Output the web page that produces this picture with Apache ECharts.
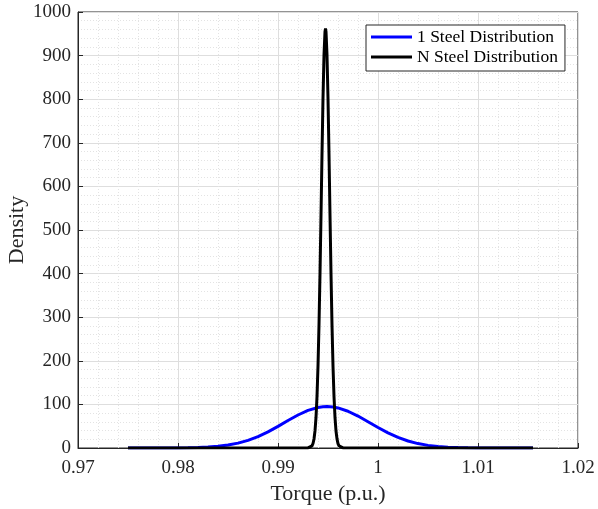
<!DOCTYPE html>
<html>
<head>
<meta charset="utf-8">
<script src="https://cdn.jsdelivr.net/npm/echarts@6/dist/echarts.min.js"></script>
<style>html,body{margin:0;padding:0;background:#fff;}#c{width:598px;height:509px;}</style>
</head>
<body>
<div id="c"></div>
<script>
// Values
const seriesNames = ['1 Steel Distribution', 'N Steel Distribution'];
const xTickLabels = ['0.97', '0.98', '0.99', '1', '1.01', '1.02'];
const yTickLabels = ['0','100','200','300','400','500','600','700','800','900','1000'];

const oneSteelX = [0.975,0.978,0.980,0.981,0.982,0.983,0.984,0.985,0.986,0.987,0.988,0.989,0.990,0.991,0.992,0.993,0.994,0.9945,0.9949,0.9955,0.996,0.997,0.998,0.999,1.000,1.001,1.002,1.003,1.004,1.005,1.006,1.007,1.008,1.009,1.010,1.012,1.0155];
const oneSteelY = [0,0.04,0.24,0.5,1.05,2.1,3.8,6.7,11.2,17.6,26.2,37.1,49.6,63,75.7,86.2,92.9,94.4,95,94.2,91.9,84.3,73.3,60.3,47,34.7,24.3,16.1,10.1,6.0,3.4,1.8,0.9,0.44,0.2,0.04,0];

const nSteelX = [0.975,0.9925,0.9930,0.9932,0.9934,0.9935,0.9936,0.9937,0.9938,0.9939,0.9940,0.9941,0.9942,0.9943,0.9944,0.9945,0.9946,0.9947,0.99475,0.9948,0.9949,0.9950,0.9951,0.9952,0.9953,0.9954,0.9955,0.9956,0.9957,0.9958,0.9959,0.9960,0.9961,0.9963,0.9965,0.9970,1.0155];
const nSteelY = [0,0,0.13,0.9,4.8,10.3,20.7,39.2,70,118,188,282,400,534,674,802,901,955,962,955,901,802,674,534,400,282,188,118,70,39,21,10,4.8,0.9,0.1,0,0];

const zip = (xs, ys) => xs.map((x, i) => [x, ys[i]]);
const serif = "'Liberation Serif', 'Times New Roman', serif";
const dark = '#262626';

const chart = echarts.init(document.getElementById('c'), null, {renderer: 'canvas'});
chart.setOption({
  backgroundColor: '#ffffff',
  animation: false,
  textStyle: {fontFamily: serif},
  grid: {left: 78, right: 20, top: 12, bottom: 61, show: true, borderColor: dark, borderWidth: 1,
    containLabel: false, outerBoundsMode: 'none'},
  legend: {
    orient: 'vertical',
    left: 366, top: 25,
    icon: 'rect',
    itemWidth: 41, itemHeight: 3,
    itemGap: 2,
    padding: [3, 7, 5, 5],
    backgroundColor: '#ffffff',
    borderColor: dark, borderWidth: 1,
    textStyle: {fontFamily: serif, fontSize: 17.5, color: '#000'},
    data: seriesNames
  },
  xAxis: {
    type: 'value', min: 0.97, max: 1.02, interval: 0.01,
    name: 'Torque (p.u.)', nameLocation: 'middle', nameGap: 35, nameMoveOverlap: false,
    nameTextStyle: {fontFamily: serif, fontSize: 22, color: dark},
    axisLine: {show: true, lineStyle: {color: dark, width: 1}},
    axisTick: {show: true, inside: true, length: 5, lineStyle: {color: dark}},
    axisLabel: {fontFamily: serif, fontSize: 19, color: dark, margin: 11,
      formatter: v => { const i = Math.round((v - 0.97) / 0.01); return xTickLabels[i] !== undefined ? xTickLabels[i] : ''; }},
    splitLine: {show: true, lineStyle: {color: '#dedede', width: 1}},
    minorTick: {show: true, splitNumber: 5, length: 0},
    minorSplitLine: {show: true, lineStyle: {color: '#e3e3e3', width: 1, type: [1, 2]}}
  },
  yAxis: {
    type: 'value', min: 0, max: 1000, interval: 100,
    name: 'Density', nameLocation: 'middle', nameGap: 50, nameMoveOverlap: false,
    nameTextStyle: {fontFamily: serif, fontSize: 22, color: dark},
    axisLine: {show: true, lineStyle: {color: dark, width: 1}},
    axisTick: {show: true, inside: true, length: 5, lineStyle: {color: dark}},
    axisLabel: {fontFamily: serif, fontSize: 19, color: dark, margin: 7,
      formatter: v => { const i = Math.round(v / 100); return yTickLabels[i] !== undefined ? yTickLabels[i] : ''; }},
    splitLine: {show: true, lineStyle: {color: '#dedede', width: 1}},
    minorTick: {show: true, splitNumber: 5, length: 0},
    minorSplitLine: {show: true, lineStyle: {color: '#e3e3e3', width: 1, type: [1, 2]}}
  },
  series: [
    {name: seriesNames[0], type: 'line', data: zip(oneSteelX, oneSteelY), showSymbol: false, symbol: 'none',
      lineStyle: {color: '#0000ff', width: 3}, itemStyle: {color: '#0000ff'}, z: 2},
    {name: seriesNames[1], type: 'line', data: zip(nSteelX, nSteelY), showSymbol: false, symbol: 'none',
      lineStyle: {color: '#000000', width: 3}, itemStyle: {color: '#000000'}, z: 3}
  ]
});
</script>
</body>
</html>
